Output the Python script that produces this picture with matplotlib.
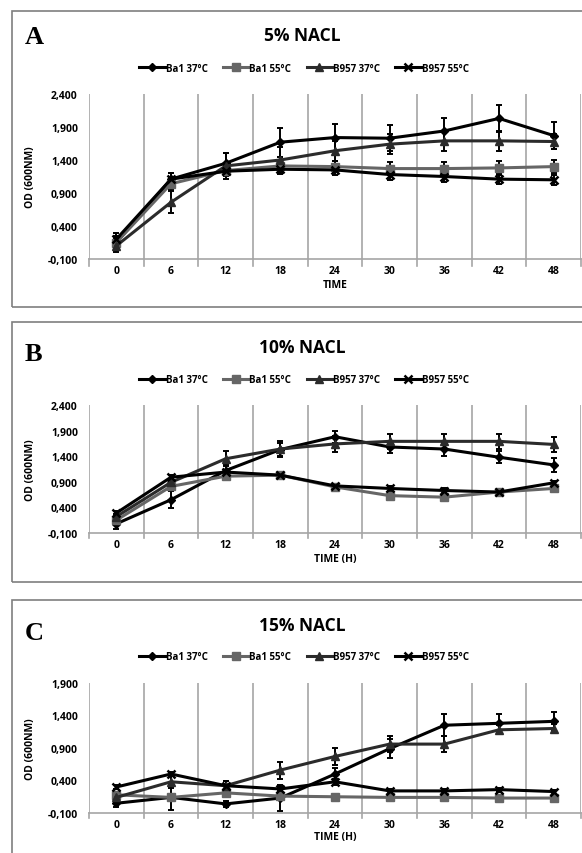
import matplotlib
matplotlib.use('Agg')
import matplotlib.pyplot as plt
from matplotlib.patches import Rectangle
from matplotlib.ticker import FuncFormatter

W, H = 582, 854

times = ['0', '6', '12', '18', '24', '30', '36', '42', '48']
series_names = ['Ba1 37°C', 'Ba1 55°C', 'B957 37°C', 'B957 55°C']

# panel A - 5% NaCl
a_ba1_37 = [0.15, 1.11, 1.35, 1.67, 1.74, 1.73, 1.84, 2.03, 1.77]
a_ba1_55 = [0.15, 1.04, 1.24, 1.31, 1.30, 1.27, 1.27, 1.28, 1.30]
a_b957_37 = [0.10, 0.76, 1.31, 1.40, 1.54, 1.64, 1.69, 1.69, 1.68]
a_b957_55 = [0.20, 1.11, 1.23, 1.26, 1.25, 1.18, 1.15, 1.11, 1.10]
a_err = [[0.10, 0.10, 0.15, 0.22, 0.20, 0.20, 0.20, 0.20, 0.20],
         [0.08, 0.10, 0.08, 0.07, 0.08, 0.10, 0.10, 0.10, 0.10],
         [0.10, 0.17, 0.20, 0.20, 0.15, 0.15, 0.15, 0.15, 0.12],
         [0.10, 0.10, 0.07, 0.07, 0.07, 0.08, 0.08, 0.08, 0.08]]

# panel B - 10% NaCl
b_ba1_37 = [0.08, 0.55, 1.12, 1.53, 1.78, 1.58, 1.54, 1.38, 1.23]
b_ba1_55 = [0.15, 0.81, 1.01, 1.03, 0.80, 0.63, 0.60, 0.70, 0.77]
b_b957_37 = [0.22, 0.89, 1.35, 1.54, 1.64, 1.69, 1.69, 1.69, 1.63]
b_b957_55 = [0.29, 0.99, 1.09, 1.03, 0.82, 0.77, 0.73, 0.70, 0.88]
b_err = [[0.10, 0.17, 0.10, 0.12, 0.12, 0.12, 0.13, 0.12, 0.13],
         [0.04, 0.04, 0.04, 0.04, 0.04, 0.04, 0.04, 0.04, 0.04],
         [0.05, 0.05, 0.15, 0.15, 0.15, 0.15, 0.15, 0.15, 0.15],
         [0.04, 0.04, 0.04, 0.04, 0.04, 0.04, 0.04, 0.04, 0.04]]

# panel C - 15% NaCl
c_ba1_37 = [0.05, 0.14, 0.04, 0.13, 0.50, 0.89, 1.25, 1.28, 1.31]
c_ba1_55 = [0.18, 0.14, 0.21, 0.16, 0.15, 0.14, 0.14, 0.13, 0.13]
c_b957_37 = [0.14, 0.38, 0.32, 0.56, 0.77, 0.96, 0.96, 1.18, 1.20]
c_b957_55 = [0.30, 0.50, 0.32, 0.27, 0.38, 0.24, 0.24, 0.26, 0.23]
c_err = [[0.05, 0.20, 0.05, 0.20, 0.10, 0.15, 0.17, 0.15, 0.15],
         [0.03, 0.03, 0.03, 0.03, 0.03, 0.03, 0.03, 0.03, 0.03],
         [0.05, 0.10, 0.08, 0.13, 0.13, 0.12, 0.12, 0.07, 0.07],
         [0.03, 0.03, 0.08, 0.03, 0.05, 0.03, 0.03, 0.03, 0.03]]

panels = [
    dict(letter='A', title='5% NACL', xlabel='TIME', data=[a_ba1_37, a_ba1_55, a_b957_37, a_b957_55],
         err=a_err, yticks=[-0.1, 0.4, 0.9, 1.4, 1.9, 2.4],
         box=(12, 12, 600, 308), plot=(89, 95, 581, 260), title_y=36, leg_y=69, xl_y=285, let_y=38),
    dict(letter='B', title='10% NACL', xlabel='TIME (H)', data=[b_ba1_37, b_ba1_55, b_b957_37, b_b957_55],
         err=b_err, yticks=[-0.1, 0.4, 0.9, 1.4, 1.9, 2.4],
         box=(12, 323, 600, 583), plot=(89, 406, 581, 534), title_y=348, leg_y=381, xl_y=560, let_y=355),
    dict(letter='C', title='15% NACL', xlabel='TIME (H)', data=[c_ba1_37, c_ba1_55, c_b957_37, c_b957_55],
         err=c_err, yticks=[-0.1, 0.4, 0.9, 1.4, 1.9],
         box=(12, 601, 600, 870), plot=(89, 684, 581, 814), title_y=626, leg_y=658, xl_y=838, let_y=633),
]

colors = ['#000000', '#666666', '#2b2b2b', '#000000']
markers = ['D', 's', '^', 'x']
msizes = [4, 6, 6, 6]
grid_c = '#a6a6a6'
font = 'Open Sans'

fig = plt.figure(figsize=(W / 100, H / 100), dpi=100)


def fx(px):
    return px / W


def fy(py):
    return 1 - py / H


fmt = FuncFormatter(lambda v, p: ('%.3f' % v).replace('.', ','))

for p in panels:
    bx0, by0, bx1, by1 = p['box']
    fig.patches.append(Rectangle((fx(bx0), fy(by1)), fx(bx1 - bx0), (by1 - by0) / H,
                                 transform=fig.transFigure, fill=False, edgecolor='#7f7f7f', lw=1.2))
    x0, y0, x1, y1 = p['plot']
    ax = fig.add_axes([fx(x0), fy(y1), fx(x1 - x0), (y1 - y0) / H])
    xs = list(range(len(times)))
    handles = []
    for i, ys in enumerate(p['data']):
        ax.errorbar(xs, ys, yerr=p['err'][i], fmt='none', ecolor='black', elinewidth=1.4,
                    capsize=2.5, capthick=1.4, zorder=3)
        h, = ax.plot(xs, ys, color=colors[i], lw=2.2, marker=markers[i], ms=msizes[i],
                     mew=1.8 if markers[i] == 'x' else 1, zorder=4, label=series_names[i])
        handles.append(h)
    ax.set_xlim(-0.5, len(times) - 0.5)
    ax.set_ylim(p['yticks'][0], p['yticks'][-1])
    ax.set_yticks(p['yticks'])
    ax.yaxis.set_major_formatter(fmt)
    ax.set_xticks(xs)
    ax.set_xticklabels(times)
    for b in range(len(times) + 1):
        ax.axvline(b - 0.5, color=grid_c, lw=1.2, zorder=1)
        ax.plot([b - 0.5, b - 0.5], [0, -0.04], transform=ax.get_xaxis_transform(),
                color=grid_c, lw=1.2, clip_on=False)
    for s in ['top', 'right', 'left']:
        ax.spines[s].set_visible(False)
    ax.spines['bottom'].set_color(grid_c)
    ax.spines['bottom'].set_linewidth(1.2)
    ax.tick_params(axis='x', length=0, pad=4)
    ax.tick_params(axis='y', length=0, pad=8)
    for lab in ax.get_xticklabels() + ax.get_yticklabels():
        lab.set_fontfamily(font)
        lab.set_fontweight('bold')
        lab.set_fontsize(7.5)
    ax.set_ylabel('OD (600NM)', fontfamily=font, fontweight='bold', fontsize=7.5)
    ax.yaxis.set_label_coords(fx(36 - x0) / fx(x1 - x0), 0.5)
    fig.text(fx((x0 + x1) / 2), fy(p['xl_y']), p['xlabel'], ha='center', va='center',
             fontfamily=font, fontweight='bold', fontsize=7.5)
    fig.text(fx(302), fy(p['title_y']), p['title'], ha='center', va='center',
             fontfamily=font, fontweight='bold', fontsize=12.5)
    fig.text(fx(25), fy(p['let_y']), p['letter'], ha='left', va='center',
             fontfamily='Liberation Serif', fontweight='bold', fontsize=19)
    fig.legend(handles=handles, loc='center', bbox_to_anchor=(fx(304), fy(p['leg_y'])),
               ncol=4, frameon=False, handlelength=2.6, handletextpad=0.1, columnspacing=1.6,
               prop=dict(family=font, weight='bold', size=7))

fig.savefig('out.png', dpi=100)
